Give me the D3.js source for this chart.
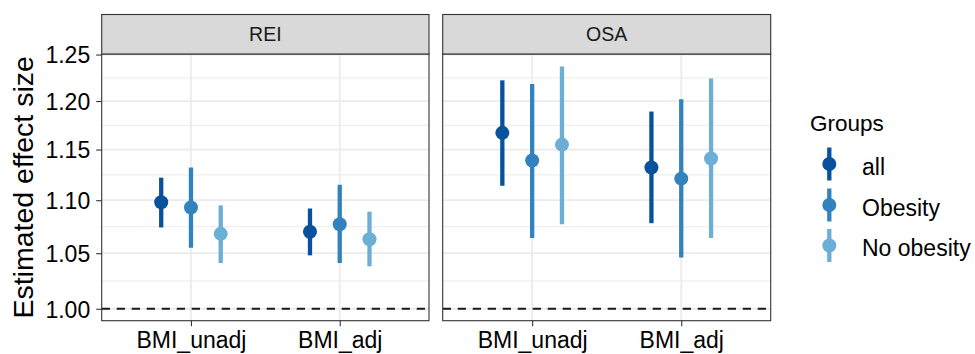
<!DOCTYPE html>
<html>
<head>
<meta charset="utf-8">
<script src="https://cdn.jsdelivr.net/npm/d3@7"></script>
<style>
  html, body { margin: 0; padding: 0; background: #ffffff; }
  svg { display: block; font-family: "Liberation Sans", Arial, sans-serif; }
</style>
</head>
<body>
<svg id="chart" width="975" height="354"></svg>
<script>
// ---- data ----
const panels = ["REI", "OSA"];
const categories = ["BMI_unadj", "BMI_adj"];
const groups = ["all", "Obesity", "No obesity"];
const groupColors = ["#08519C", "#3182BD", "#6BAED6"];
const yTicks = [1.00, 1.05, 1.10, 1.15, 1.20, 1.25];
const yMinorTicks = [1.0247, 1.0747, 1.1247, 1.1747, 1.2247];

// order: BMI_unadj (all, Obesity, No obesity), BMI_adj (all, Obesity, No obesity)
const reiEstimate = [1.098, 1.093, 1.068, 1.070, 1.077, 1.063];
const reiLower    = [1.074, 1.055, 1.041, 1.048, 1.041, 1.038];
const reiUpper    = [1.122, 1.132, 1.095, 1.092, 1.115, 1.089];

const osaEstimate = [1.167, 1.139, 1.155, 1.132, 1.121, 1.141];
const osaLower    = [1.114, 1.064, 1.077, 1.078, 1.046, 1.064];
const osaUpper    = [1.222, 1.218, 1.237, 1.189, 1.202, 1.224];

function buildRows(est, lo, hi) {
  const rows = [];
  categories.forEach((c, ci) => {
    groups.forEach((g, gi) => {
      const k = ci * groups.length + gi;
      rows.push({ category: c, group: g, gi: gi, est: est[k], lo: lo[k], hi: hi[k] });
    });
  });
  return rows;
}
const panelData = {
  REI: buildRows(reiEstimate, reiLower, reiUpper),
  OSA: buildRows(osaEstimate, osaLower, osaUpper)
};

// ---- layout ----
const svg = d3.select("#chart");
const panelX = [[101.7, 429], [442.7, 770.7]];
const stripTop = 14.5, panelTop = 54, panelBottom = 320.7;
const ink = "#333333";

const y = d3.scaleLog().domain([0.9896, 1.2506]).range([panelBottom, panelTop]);
const color = d3.scaleOrdinal().domain(groups).range(groupColors);

panels.forEach((p, pi) => {
  const [x0, x1] = panelX[pi];
  const x = d3.scalePoint().domain(categories).range([x0, x1]).padding(0.6);
  const dodge = x.step() * 0.2;
  const g = svg.append("g");

  // panel background
  g.append("rect").attr("x", x0).attr("y", panelTop).attr("width", x1 - x0)
    .attr("height", panelBottom - panelTop).attr("fill", "#ffffff");

  // minor grid
  g.selectAll(".minor").data(yMinorTicks).enter().append("line")
    .attr("x1", x0).attr("x2", x1)
    .attr("y1", d => y(d)).attr("y2", d => y(d))
    .attr("stroke", "#EBEBEB").attr("stroke-width", 1.0);
  // major grid
  g.selectAll(".major").data(yTicks).enter().append("line")
    .attr("x1", x0).attr("x2", x1)
    .attr("y1", d => y(d)).attr("y2", d => y(d))
    .attr("stroke", "#EBEBEB").attr("stroke-width", 1.7);
  g.selectAll(".vmajor").data(categories).enter().append("line")
    .attr("x1", d => x(d)).attr("x2", d => x(d))
    .attr("y1", panelTop).attr("y2", panelBottom)
    .attr("stroke", "#EBEBEB").attr("stroke-width", 1.7);

  // reference line
  g.append("line").attr("x1", x0).attr("x2", x1)
    .attr("y1", y(1)).attr("y2", y(1))
    .attr("stroke", "#1A1A1A").attr("stroke-width", 2)
    .attr("stroke-dasharray", "8.3,6.7");

  const rows = panelData[p];
  const px = d => x(d.category) + (d.gi - 1) * dodge;
  g.selectAll(".err").data(rows).enter().append("line")
    .attr("x1", px).attr("x2", px)
    .attr("y1", d => y(d.lo)).attr("y2", d => y(d.hi))
    .attr("stroke", d => color(d.group)).attr("stroke-width", 4.3);
  g.selectAll(".pt").data(rows).enter().append("circle")
    .attr("cx", px).attr("cy", d => y(d.est)).attr("r", 7)
    .attr("fill", d => color(d.group));

  // panel border
  g.append("rect").attr("x", x0).attr("y", panelTop).attr("width", x1 - x0)
    .attr("height", panelBottom - panelTop).attr("fill", "none")
    .attr("stroke", ink).attr("stroke-width", 1.1);

  // strip
  g.append("rect").attr("x", x0).attr("y", stripTop).attr("width", x1 - x0)
    .attr("height", panelTop - stripTop).attr("fill", "#D9D9D9")
    .attr("stroke", ink).attr("stroke-width", 1.1);
  g.append("text").attr("x", (x0 + x1) / 2).attr("y", (stripTop + panelTop) / 2 + 6.9)
    .attr("text-anchor", "middle").attr("font-size", 19.5).attr("fill", "#1A1A1A")
    .text(p);

  // x axis
  const xAxis = g.append("g").attr("transform", `translate(0,${panelBottom})`)
    .call(d3.axisBottom(x).tickSize(5.5).tickPadding(0));
  xAxis.select(".domain").remove();
  xAxis.selectAll(".tick line").attr("stroke", ink).attr("stroke-width", 1.1);
  xAxis.selectAll(".tick text").attr("font-size", 23).attr("fill", "#000000")
    .attr("font-family", "Liberation Sans, Arial, sans-serif")
    .attr("dy", null).attr("y", 27.8);

  if (pi === 0) {
    const yAxis = g.append("g").attr("transform", `translate(${x0},0)`)
      .call(d3.axisLeft(y).tickValues(yTicks).tickFormat(d3.format(".2f")).tickSize(5.5).tickPadding(6));
    yAxis.select(".domain").remove();
    yAxis.selectAll(".tick line").attr("stroke", ink).attr("stroke-width", 1.1);
    yAxis.selectAll(".tick text").attr("font-size", 23).attr("fill", "#000000")
      .attr("font-family", "Liberation Sans, Arial, sans-serif")
      .attr("dy", "0.36em");
  }
});

// y title
svg.append("text")
  .attr("transform", `translate(32.5,${(panelTop + panelBottom) / 2}) rotate(-90)`)
  .attr("text-anchor", "middle").attr("font-size", 28.5).attr("fill", "#000000")
  .text("Estimated effect size");

// legend
const legend = svg.append("g");
legend.append("text").attr("x", 810).attr("y", 131).attr("font-size", 22.5)
  .attr("fill", "#000000").text("Groups");
const keyY = [164, 205, 245.5];
groups.forEach((gName, i) => {
  const cy = keyY[i];
  legend.append("line").attr("x1", 829.3).attr("x2", 829.3)
    .attr("y1", cy - 16.5).attr("y2", cy + 16.5)
    .attr("stroke", color(gName)).attr("stroke-width", 4.3);
  legend.append("circle").attr("cx", 829.3).attr("cy", cy).attr("r", 7)
    .attr("fill", color(gName));
  legend.append("text").attr("x", 862).attr("y", cy + 10.5).attr("font-size", 23)
    .attr("fill", "#000000").text(gName);
});
</script>
</body>
</html>
